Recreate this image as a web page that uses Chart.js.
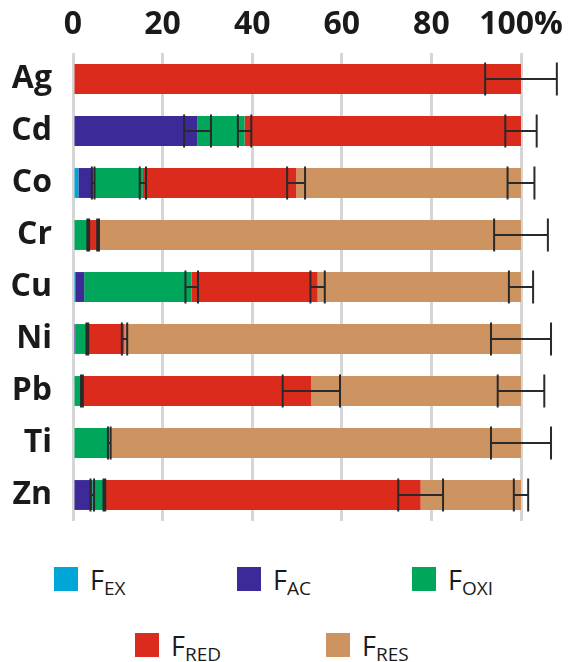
<!DOCTYPE html>
<html>
<head>
<meta charset="utf-8">
<script src="https://cdn.jsdelivr.net/npm/chart.js@4"></script>
<style>
  body { margin: 0; background: #fff; font-family: 'Open Sans', sans-serif; }
  #wrap { position: relative; width: 585px; height: 662px; }
  #legend .sw { position: absolute; width: 24px; height: 24px; }
  #legend .lab { position: absolute; font-size: 27px; color: #1a1a1a; line-height: 1; white-space: nowrap; }
  #legend .lab sub { font-size: 19px; vertical-align: -5px; }
</style>
</head>
<body>
<div id="wrap">
  <canvas id="fracChart" width="585" height="530"></canvas>
  <div id="legend"></div>
</div>
<script>
// Metal fractions, % of total
const metals = ['Ag', 'Cd', 'Co', 'Cr', 'Cu', 'Ni', 'Pb', 'Ti', 'Zn'];
const xTicks = [0, 20, 40, 60, 80, 100];

const fEx  = [0,   0,    1.2,  0,    0.5,  0,    0,    0,    0];
const fAc  = [0,   27.8, 3.3,  0,    2.0,  0.5,  0,    0,    4.3];
const fOxi = [0,   10.5, 11.1, 3.4,  24.0, 2.7,  2.0,  8.1,  2.7];
const fRed = [100, 61.7, 34.2, 2.2,  28.1, 8.3,  51.2, 0,    70.6];
const fRes = [0,   0,    50.2, 94.4, 45.4, 88.5, 46.8, 91.9, 22.4];

// error (+/-) at the end of each fraction
const eEx  = [0, 0,   0,   0,   0,   0,   0,   0,   0];
const eAc  = [0, 3.0, 0.3, 0,   0,   0,   0,   0,   0.4];
const eOxi = [0, 1.5, 0.7, 0.2, 1.4, 0.2, 0.2, 0.3, 0.2];
const eRed = [8, 3.5, 2.0, 0.2, 1.6, 0.6, 6.4, 0,   5.0];
const eRes = [0, 0,   3.0, 6.0, 2.7, 6.7, 5.2, 6.7, 1.6];

const series = [
  { sub: 'EX',  data: fEx,  err: eEx,  color: '#00a6d6' },
  { sub: 'AC',  data: fAc,  err: eAc,  color: '#3b2a98' },
  { sub: 'OXI', data: fOxi, err: eOxi, color: '#00a65a' },
  { sub: 'RED', data: fRed, err: eRed, color: '#da2b1d' },
  { sub: 'RES', data: fRes, err: eRes, color: '#cd9461' }
];

const errorBars = {
  id: 'errorBars',
  afterDatasetsDraw(chart) {
    const { ctx, scales: { x, y } } = chart;
    const sets = chart.data.datasets;
    ctx.save();
    ctx.strokeStyle = '#2a2a2a';
    ctx.lineWidth = 2;
    sets.forEach((ds, di) => {
      ds.errors.forEach((e, i) => {
        if (!e || !ds.data[i]) return;
        let end = 0;
        for (let k = 0; k <= di; k++) end += sets[k].data[i];
        const xl = x.getPixelForValue(end - e);
        const xr = x.getPixelForValue(end + e);
        const yc = y.getPixelForValue(i);
        const h = 16.5;
        ctx.beginPath();
        ctx.moveTo(xl, yc); ctx.lineTo(xr, yc);
        ctx.moveTo(xl, yc - h); ctx.lineTo(xl, yc + h);
        ctx.moveTo(xr, yc - h); ctx.lineTo(xr, yc + h);
        ctx.stroke();
      });
    });
    ctx.restore();
  }
};

new Chart(document.getElementById('fracChart'), {
  type: 'bar',
  data: {
    labels: metals,
    datasets: series.map(s => ({
      label: 'F' + s.sub,
      data: s.data,
      errors: s.err,
      backgroundColor: s.color,
      borderWidth: 0,
      barPercentage: 1,
      categoryPercentage: 0.575
    }))
  },
  options: {
    indexAxis: 'y',
    responsive: false,
    animation: false,
    layout: { padding: { left: 0, top: 0, right: 64, bottom: 9 } },
    plugins: {
      legend: { display: false },
      tooltip: { enabled: false }
    },
    scales: {
      x: {
        position: 'top',
        stacked: true,
        min: 0,
        max: 100,
        afterFit: s => { s.height = 53; s.paddingRight = 0; s.paddingLeft = 0; },
        afterBuildTicks: s => { s.ticks = xTicks.map(v => ({ value: v })); },
        ticks: {
          padding: 9,
          maxRotation: 0,
          minRotation: 0,
          autoSkip: false,
          color: '#1a1a1a',
          font: { family: 'Open Sans', size: 32, weight: 'bold' },
          callback: v => v === 100 ? '100%' : v
        },
        grid: { color: '#d6d6d6', lineWidth: 3, drawTicks: false },
        border: { display: false }
      },
      y: {
        stacked: true,
        afterFit: s => { s.width = 73; s.paddingTop = 0; s.paddingBottom = 0; },
        ticks: {
          padding: 13,
          color: '#1a1a1a',
          font: { family: 'Open Sans', size: 32, weight: 'bold' }
        },
        grid: { display: false },
        border: { display: false }
      }
    }
  },
  plugins: [errorBars]
});

// legend with subscripts
const legendPos = [[54, 567], [237, 567], [412, 567], [135, 633], [326, 633]];
const legend = document.getElementById('legend');
series.forEach((s, i) => {
  const [lx, ly] = legendPos[i];
  const sw = document.createElement('span');
  sw.className = 'sw';
  sw.style.left = lx + 'px';
  sw.style.top = ly + 'px';
  sw.style.background = s.color;
  legend.appendChild(sw);
  const lab = document.createElement('span');
  lab.className = 'lab';
  lab.style.left = (lx + 36) + 'px';
  lab.style.top = (ly - 1) + 'px';
  lab.innerHTML = 'F<sub>' + s.sub + '</sub>';
  legend.appendChild(lab);
});
</script>
</body>
</html>
